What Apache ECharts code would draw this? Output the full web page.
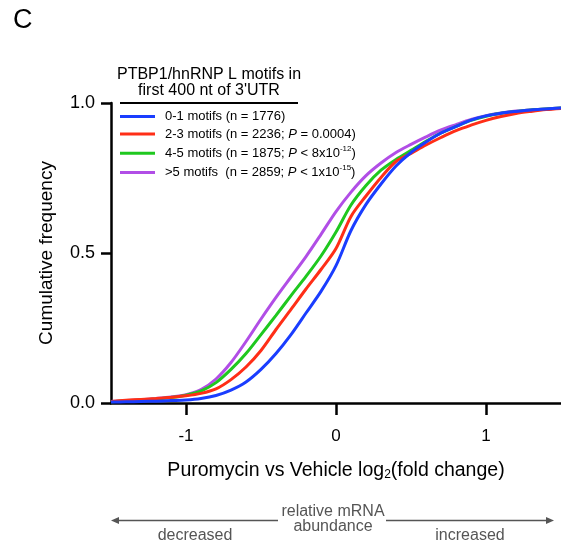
<!DOCTYPE html>
<html>
<head>
<meta charset="utf-8">
<script src="https://cdn.jsdelivr.net/npm/echarts@6/dist/echarts.min.js"></script>
<style>
html, body { margin: 0; padding: 0; background: #fff; }
#cdfChart { width: 561px; height: 546px; }
</style>
</head>
<body>
<div id="cdfChart"></div>
<script>
// log2 fold change sample points and cumulative frequency per motif group
var foldChange = [-1.5, -1.4, -1.3, -1.2, -1.1, -1.0, -0.9, -0.8, -0.7, -0.6, -0.5, -0.4, -0.3, -0.2, -0.1, 0.0,
    0.1, 0.2, 0.3, 0.4, 0.5, 0.6, 0.7, 0.8, 0.9, 1.0, 1.1, 1.2, 1.3, 1.4, 1.5];
var motifs01 = [0.003, 0.004, 0.005, 0.006, 0.008, 0.010, 0.015, 0.025, 0.043, 0.070, 0.112, 0.165, 0.228, 0.300, 0.372, 0.458,
    0.575, 0.662, 0.730, 0.790, 0.835, 0.870, 0.900, 0.922, 0.943, 0.957, 0.966, 0.972, 0.977, 0.980, 0.983];
var motifs23 = [0.005, 0.009, 0.012, 0.015, 0.019, 0.024, 0.032, 0.047, 0.078, 0.120, 0.175, 0.245, 0.312, 0.380, 0.445, 0.515,
    0.622, 0.690, 0.752, 0.805, 0.832, 0.860, 0.885, 0.908, 0.926, 0.942, 0.955, 0.965, 0.972, 0.978, 0.982];
var motifs45 = [0.004, 0.007, 0.010, 0.013, 0.018, 0.026, 0.040, 0.068, 0.112, 0.165, 0.228, 0.292, 0.358, 0.422, 0.490, 0.570,
    0.660, 0.725, 0.776, 0.812, 0.842, 0.872, 0.900, 0.922, 0.942, 0.956, 0.966, 0.972, 0.977, 0.980, 0.983];
var motifs5plus = [0.005, 0.008, 0.011, 0.015, 0.020, 0.028, 0.045, 0.080, 0.135, 0.205, 0.280, 0.352, 0.420, 0.488, 0.562, 0.638,
    0.703, 0.758, 0.800, 0.835, 0.862, 0.887, 0.910, 0.928, 0.945, 0.958, 0.967, 0.973, 0.977, 0.980, 0.983];

var groupNames = ['0-1 motifs (n = 1776)', '2-3 motifs (n = 2236; P = 0.0004)',
    '4-5 motifs (n = 1875; P < 8x10-12)', '>5 motifs (n = 2859; P < 1x10-15)'];
var legendLabels = [
    '{t|0-1 motifs (n = 1776)}',
    '{t|2-3 motifs (n = 2236; }{i|P}{t| = 0.0004)}',
    '{t|4-5 motifs (n = 1875; }{i|P}{t| < 8x10}{s|-12}{t|)}',
    '{t|>5 motifs  (n = 2859; }{i|P}{t| < 1x10}{s|-15}{t|)}'
];
var groupColors = ['#1a3dff', '#ff2e17', '#1fc81f', '#b14ee6'];
var yTicks = [0, 0.5, 1];
var xTicks = [-1, 0, 1];

var fontName = 'Liberation Sans';

function pairs(ys) {
    var out = [];
    for (var i = 0; i < foldChange.length; i++) {
        out.push([foldChange[i], ys[i]]);
    }
    return out;
}

var cdfChart = echarts.init(document.getElementById('cdfChart'));

var seriesData = [motifs01, motifs23, motifs45, motifs5plus];
var series = [];
// draw purple first, blue last (blue sits on top)
[3, 2, 1, 0].forEach(function (k) {
    series.push({
        name: groupNames[k],
        type: 'line',
        data: pairs(seriesData[k]),
        showSymbol: false,
        symbol: 'none',
        smooth: 0.3,
        z: 2 + (3 - k),
        lineStyle: {width: 3, color: groupColors[k]},
        itemStyle: {color: groupColors[k]}
    });
});

var option = {
    animation: false,
    textStyle: {fontFamily: fontName},
    grid: {left: 111, top: 103, width: 453, height: 300},
    legend: {
        data: groupNames,
        orient: 'vertical',
        left: 120,
        top: 110,
        padding: 0,
        itemGap: 4.5,
        itemWidth: 35,
        itemHeight: 3,
        icon: 'rect',
        selectedMode: false,
        formatter: function (name) {
            return legendLabels[groupNames.indexOf(name)];
        },
        textStyle: {
            padding: [0, 0, 0, 5],
            rich: {
                t: {fontSize: 13, color: '#000', fontFamily: fontName, lineHeight: 16.5},
                i: {fontSize: 13, color: '#000', fontFamily: fontName, fontStyle: 'italic', lineHeight: 16.5},
                s: {fontSize: 8, color: '#000', fontFamily: fontName, lineHeight: 9, verticalAlign: 'top'}
            }
        }
    },
    xAxis: {
        type: 'value',
        min: -1.5,
        max: 1.5,
        splitLine: {show: false},
        axisLine: {onZero: false, lineStyle: {color: '#000', width: 2.5}},
        axisTick: {show: true, length: 12, lineStyle: {color: '#000', width: 2.5}, customValues: xTicks},
        axisLabel: {
            fontSize: 17, color: '#000', margin: 25, customValues: xTicks,
            formatter: function (v) { return v < 0 ? '-' + Math.abs(v) : String(v); }
        },
        name: '{n|Puromycin vs Vehicle log}{sub|2}{n|(fold change)}',
        nameLocation: 'middle',
        nameGap: 57,
        nameTextStyle: {
            rich: {
                n: {fontSize: 19.5, color: '#000', fontFamily: fontName},
                sub: {fontSize: 12, color: '#000', fontFamily: fontName, padding: [9, 0, 0, 0]}
            }
        }
    },
    yAxis: {
        type: 'value',
        min: 0,
        max: 1,
        interval: 0.5,
        splitLine: {show: false},
        axisLine: {onZero: false, lineStyle: {color: '#000', width: 2.5}},
        axisTick: {show: true, length: 10, lineStyle: {color: '#000', width: 2.5}},
        axisLabel: {
            fontSize: 18, color: '#000', margin: 16,
            formatter: function (v) { return v.toFixed(1); }
        },
        name: 'Cumulative frequency',
        nameLocation: 'middle',
        nameGap: 55,
        nameTextStyle: {fontSize: 19, color: '#000'}
    },
    graphic: [
        {type: 'text', left: 13, top: 7, style: {text: 'C', fontSize: 27, fill: '#000', fontFamily: fontName}},
        {type: 'text', x: 209, y: 67, style: {text: 'PTBP1/hnRNP L motifs in\nfirst 400 nt of 3\'UTR', fontSize: 16, lineHeight: 15.5,
            fill: '#000', align: 'center', verticalAlign: 'top', fontFamily: fontName}},
        {type: 'line', shape: {x1: 120, y1: 103, x2: 298, y2: 103}, style: {stroke: '#000', lineWidth: 2}},
        // relative abundance arrows
        {type: 'line', shape: {x1: 116, y1: 520.5, x2: 278, y2: 520.5}, style: {stroke: '#555', lineWidth: 1.5}},
        {type: 'line', shape: {x1: 386, y1: 520.5, x2: 549, y2: 520.5}, style: {stroke: '#555', lineWidth: 1.5}},
        {type: 'polygon', shape: {points: [[111, 520.5], [119, 517], [119, 524]]}, style: {fill: '#555'}},
        {type: 'polygon', shape: {points: [[554, 520.5], [546, 517], [546, 524]]}, style: {fill: '#555'}},
        {type: 'text', x: 333, y: 504, style: {text: 'relative mRNA\nabundance', fontSize: 16, lineHeight: 15, fill: '#555',
            align: 'center', verticalAlign: 'top', fontFamily: fontName}},
        {type: 'text', x: 195, y: 528, style: {text: 'decreased', fontSize: 16, fill: '#555', align: 'center', verticalAlign: 'top', fontFamily: fontName}},
        {type: 'text', x: 470, y: 528, style: {text: 'increased', fontSize: 16, fill: '#555', align: 'center', verticalAlign: 'top', fontFamily: fontName}}
    ],
    series: series
};

cdfChart.setOption(option);
</script>
</body>
</html>
